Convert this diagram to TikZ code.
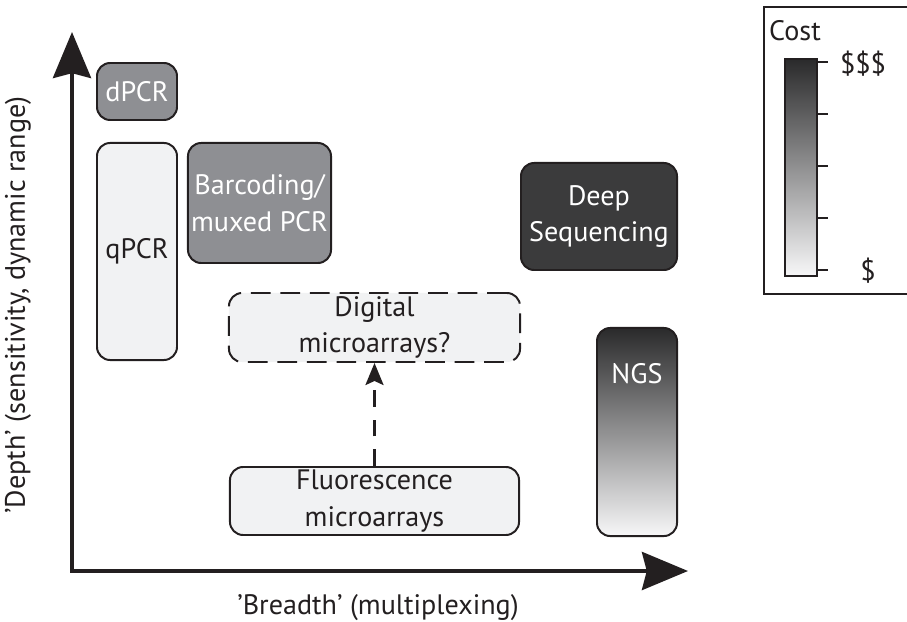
\documentclass[tikz,border=0pt]{standalone}
\usepackage{fontspec}
\setmainfont{PT Sans}
\usetikzlibrary{arrows.meta}

\definecolor{inkgray}{HTML}{231F20}
\definecolor{lightfill}{HTML}{F1F2F3}
\definecolor{midfill}{HTML}{8E8F93}
\definecolor{darkfill}{HTML}{3B3B3C}
\definecolor{topshade}{HTML}{2A2A2B}
\definecolor{botshade}{HTML}{F7F7F8}

\begin{document}
\begin{tikzpicture}[x=0.025cm, y=-0.025cm, font=\fontsize{20}{26}\selectfont, text=inkgray]

\useasboundingbox (0,0) rectangle (907,622);

% Styles
\tikzstyle{tech} = [draw=inkgray, line width=1.4pt, rectangle, rounded corners=0.33cm, align=center, inner sep=0pt]
\tikzstyle{cheap} = [tech, fill=lightfill, text=inkgray]
\tikzstyle{middle} = [tech, fill=midfill, text=white]
\tikzstyle{pricey} = [tech, fill=darkfill, text=white]
\tikzstyle{graded} = [tech, top color=topshade, middle color=midfill, bottom color=botshade]
\tikzstyle{axis} = [draw=inkgray, line width=2.8pt, arrows={Stealth[length=1.15cm, width=0.95cm, inset=0.12cm]-Stealth[length=1.15cm, width=0.95cm, inset=0.12cm]}]
\tikzstyle{maybe} = [draw=inkgray, line width=1.8pt, dash pattern=on 12pt off 9pt, -{Stealth[length=0.55cm, width=0.45cm, inset=0.1cm]}]
\tikzstyle{tick} = [draw=inkgray, line width=1.4pt]
\tikzstyle{small} = [font=\fontsize{20}{24}\selectfont]

% Axes
\coordinate (ytop) at (72,32);
\coordinate (origin) at (72,571);
\coordinate (xend) at (688,571);
\draw[axis] (ytop) -- (origin) -- (xend);
\node (xlabel) at (378,608) {'Breadth' (multiplexing)};
\node[rotate=90] (ylabel) at (18,305) {'Depth' (sensitivity, dynamic range)};

% Nodes - techniques
\node[middle, minimum width=2cm, minimum height=1.425cm] (dpcr) at (137,91.5) {dPCR};
\node[cheap, minimum width=2cm, minimum height=5.425cm] (qpcr) at (137,251.5) {qPCR};
\node[middle, minimum width=3.575cm, minimum height=3cm] (barcode) at (259.5,203) {Barcoding/\\muxed PCR};
\node[pricey, minimum width=3.9cm, minimum height=2.675cm] (deep) at (599,216.5) {Deep\\Sequencing};
\node[cheap, dash pattern=on 14pt off 7pt, minimum width=7.275cm, minimum height=1.725cm] (digital) at (374.5,327.5) {Digital\\microarrays?};
\node[cheap, minimum width=7.225cm, minimum height=1.7cm] (fluor) at (374.5,501) {Fluorescence\\microarrays};
\node[graded, text=white, anchor=north, minimum width=2cm, text height=1.4cm, text depth=3.8cm] (ngs) at (637,327) {NGS};

% Connections
\draw[maybe] (fluor) -- (digital);

% Legend
\node[draw=inkgray, line width=1.4pt, anchor=north west, minimum width=3.9cm, minimum height=7.175cm] (legend) at (763,6) {};
\node[small] (cost) at (795,31) {Cost};
\node[draw=inkgray, line width=1.4pt, anchor=north west, top color=topshade, middle color=midfill, bottom color=botshade, minimum width=0.8cm, minimum height=5.425cm] (costbar) at (784,58) {};
\foreach \y in {62,114,166,218,270}
  \draw[tick] (816,\y) -- (828,\y);
\node[small] (high) at (863,64) {\$\$\$};
\node[small] (low) at (868,271) {\$};

\end{tikzpicture}
\end{document}
